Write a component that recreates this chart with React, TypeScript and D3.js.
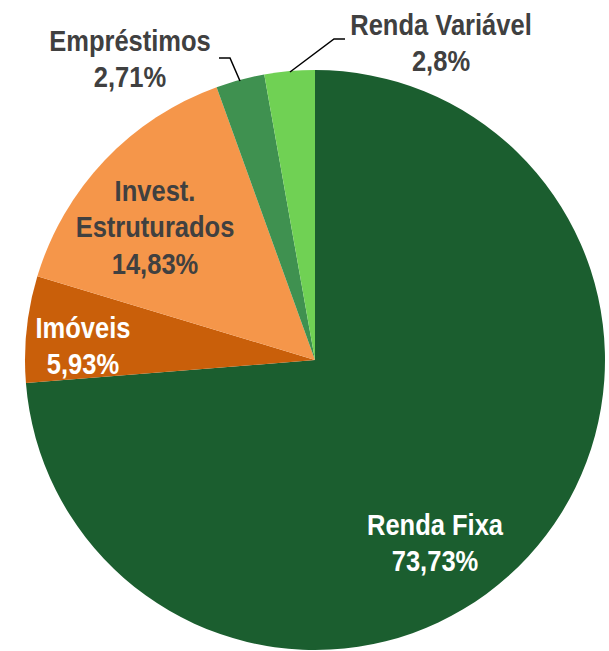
import React from 'react';
import * as d3 from 'd3';

const categories = ['Renda Fixa', 'Imóveis', 'Invest. Estruturados', 'Empréstimos', 'Renda Variável'];
const values = [73.73, 5.93, 14.83, 2.71, 2.8];
const valueLabels = ['73,73%', '5,93%', '14,83%', '2,71%', '2,8%'];

const colors = ['#1b5e2f', '#c95f0a', '#f5964a', '#3f9150', '#70d154'];
const textColors = ['#ffffff', '#ffffff', '#404040', '#404040', '#404040'];

// label placement (layout only)
const labelLines = [
  ['Renda Fixa'],
  ['Imóveis'],
  ['Invest.', 'Estruturados'],
  ['Empréstimos'],
  ['Renda Variável'],
];
const labelPos = [
  [435, 535],
  [83, 338],
  [155, 201],
  [130, 51],
  [441, 35],
];
const leaders: Record<number, number[][]> = {
  3: [[219, 58], [230, 58], [240, 81]],
  4: [[345, 39], [334, 39], [290, 72]],
};

const width = 609;
const height = 651;
const cx = 315;
const cy = 360;
const radius = 290;

const App = () => {
  const pie = d3.pie<number>().sort(null).value(d => d);
  const arcs = pie(values);
  const arc = d3.arc<d3.PieArcDatum<number>>().innerRadius(0).outerRadius(radius);
  const line = d3.line();
  const lh = 36.5;
  const sx = 0.88;

  return (
    <svg width={width} height={height} style={{ position: 'absolute', left: 0, top: 0 }}
      fontFamily="'Liberation Sans', Arial, sans-serif"
      fontWeight="bold" fontSize={29}>
      <g transform={`translate(${cx},${cy})`}>
        {arcs.map((a, i) => (
          <path key={categories[i]} d={arc(a) || ''} fill={colors[i]} />
        ))}
      </g>
      {Object.entries(leaders).map(([k, pts]) => (
        <path key={k} d={line(pts as [number, number][]) || ''} fill="none" stroke="#000" strokeWidth={1.5} />
      ))}
      {categories.map((c, i) => {
        const [x, y] = labelPos[i];
        const lines = [...labelLines[i], valueLabels[i]];
        return (
          <g key={c} transform={`translate(${x},${y}) scale(${sx},1)`}>
            <text textAnchor="middle" fill={textColors[i]}>
              {lines.map((t, j) => (
                <tspan key={j} x={0} y={j * lh}>{t}</tspan>
              ))}
            </text>
          </g>
        );
      })}
    </svg>
  );
};

export default App;
